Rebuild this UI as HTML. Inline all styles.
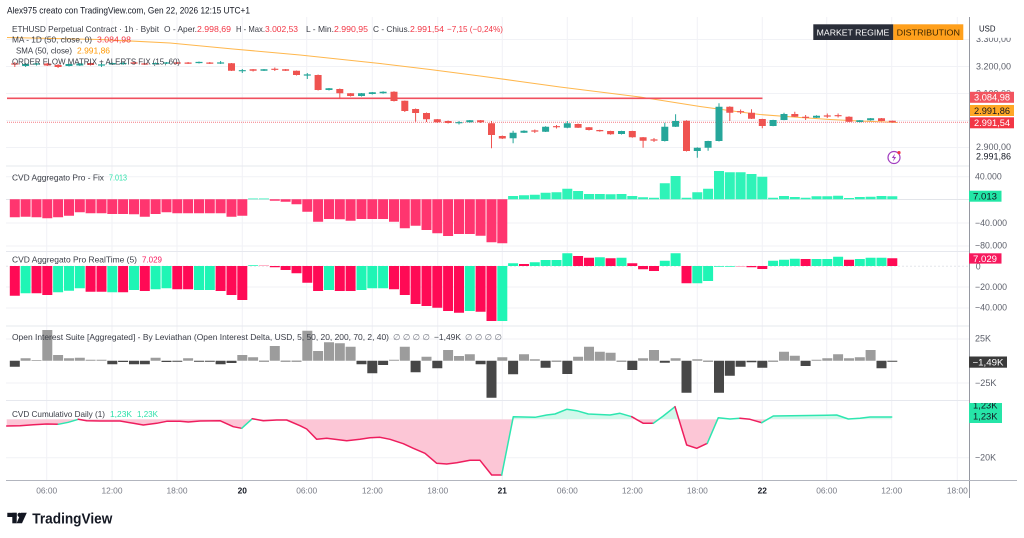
<!DOCTYPE html>
<html><head><meta charset="utf-8">
<style>
html,body{margin:0;padding:0;background:#fff;width:1024px;height:538px;overflow:hidden}
svg{display:block}
text{font-family:"Liberation Sans",Arial,"DejaVu Sans",sans-serif}
</style></head><body>
<svg width="1024" height="538" viewBox="0 0 1024 538" xmlns="http://www.w3.org/2000/svg">
<defs>
<clipPath id="ab"><rect x="0" y="380" width="970" height="39.3"/></clipPath>
<clipPath id="bl"><rect x="0" y="419.3" width="970" height="62"/></clipPath>
<clipPath id="cumbadge"><rect x="969" y="403" width="40" height="20"/></clipPath>
</defs>
<rect x="0" y="0" width="1024" height="538" fill="#fff"/>

<!-- grid -->
<g stroke="#f1f2f6" stroke-width="1">
<path d="M46.7 17V480M112 17V480M177 17V480M242.3 17V480M306.7 17V480M372.3 17V480M437.7 17V480M502.3 17V480M567.3 17V480M632.3 17V480M697.3 17V480M762.3 17V480M826.7 17V480M891.7 17V480M957.3 17V480"/>
<path d="M6 39.5H969M6 66.5H969M6 93.5H969M6 120.5H969M6 147.5H969M6 176.7H969M6 223H969M6 246H969M6 287H969M6 308H969M6 339H969M6 383H969M6 457.7H969"/>
</g>
<!-- pane separators -->
<path d="M6 166H969M6 251.5H969M6 326H969M6 400.5H969" stroke="#e6e8ee" stroke-width="1"/>
<!-- zero lines -->
<line x1="6" y1="199.5" x2="969" y2="199.5" stroke="#e3e5ea" stroke-width="1"/>
<line x1="6" y1="266.3" x2="969" y2="266.3" stroke="#e3e5ea" stroke-width="1" stroke-dasharray="2,2"/>

<!-- SMA orange -->
<polyline points="7,37.5 100,39.5 170,43 233,49 300,55 380,63.5 430,69.5 480,76 520,81.5 560,87 600,92 640,97 700,106.5 740,112 760,114.5 800,117.5 830,119.5 860,121 897,122.5" fill="none" stroke="#ffb74d" stroke-width="1.1"/>
<!-- MA 1D -->
<line x1="7" y1="98.3" x2="762.5" y2="98.3" stroke="#f0505f" stroke-width="1.6"/>
<!-- price line -->
<line x1="7" y1="122.3" x2="969" y2="122.3" stroke="#f47a84" stroke-width="1" stroke-dasharray="1,1"/>

<!-- candles green -->
<path stroke="#26a69a" stroke-width="1" fill="none" d="M25.6 63V67M36.5 63V65.5M69 63.5V66.5M79.8 63V66M101.5 63V67M112.3 62.5V65M123.1 62V65M155.6 62.5V64.5M166.5 62V64M199 61.5V63.5M220.6 61V64M242.3 69V73M264 69V71M307.3 73V79M329 88V90.5M361.5 93V96.5M372.3 92V94.5M383.1 91.3V93.7M459 121V124.5M469.8 120V122.7M513.1 130.7V143.3M524 130.3V133M545.6 126.3V132M567.3 121V128.3M621.5 130.7V134.5M664.8 122.7V141.5M675.6 114.3V127M697.3 147.3V157.7M708.1 140.7V150.7M719 103.3V141.5M773.1 119.7V126.3M784 112.7V120.3M816.5 115.3V118M859.8 120V122.5M870.6 118V120.7"/>
<path fill="#26a69a" d="M22.1 64h7v2h-7zM33 63.4h7v1.2h-7zM65.5 64h7v2h-7zM76.3 63.5h7v2h-7zM98 64.4h7v1.2h-7zM108.8 63h7v1.5h-7zM119.6 62.9h7v1.2h-7zM152.1 63h7v1.2h-7zM163 62.4h7v1.2h-7zM195.5 61.9h7v1.2h-7zM217.1 62.4h7v1.2h-7zM238.8 70.1h7v1.2h-7zM260.5 69.3h7v1.4h-7zM303.8 74.4h7v1.2h-7zM325.5 88.3h7v1.7h-7zM358 93.3h7v2.7h-7zM368.8 92.3h7v1.7h-7zM379.6 91.7h7v1.6h-7zM455.5 122.1h7v1.2h-7zM466.3 120.3h7v2h-7zM509.6 132.7h7v5.6h-7zM520.5 130.7h7v2h-7zM542.1 126.7h7v5h-7zM563.8 123.3h7v4.4h-7zM618 131h7v3h-7zM661.3 126.7h7v14.3h-7zM672.1 121h7v5.7h-7zM693.8 147.7h7v3.3h-7zM704.6 141h7v6.7h-7zM715.5 106.7h7v34.3h-7zM769.6 120h7v6h-7zM780.5 114h7v6h-7zM813 115.7h7v2h-7zM856.3 120.3h7v1.7h-7zM867.1 118.3h7v2h-7z"/>
<!-- candles red -->
<path stroke="#ef5350" stroke-width="1" fill="none" d="M14.8 62V67M47.3 63V66M58.1 64V68M90.6 62.5V65.5M134 62V64.5M144.8 63V65M177.3 62V64M188.1 62V64M209.8 62V64M231.5 63V71M253.1 69V71.5M274.8 67.5V71M285.6 69V71M296.5 70.5V75.5M318.1 74.5V90.5M339.8 88.5V98.3M350.6 93V96.5M394 91.3V101.5M404.8 100.5V112M415.6 108.5V121.7M426.5 112.5V122M437.3 119V123M448.1 120.5V123.5M480.6 120V123M491.5 121V148.3M502.3 135.5V139M534.8 129.5V133M556.5 125V128.5M578.1 123.5V128M589 127V130.5M599.8 129.7V131.7M610.6 130.7V134.7M632.3 130.7V137.7M643.1 137V147.7M654 138V142M686.5 120.3V151.5M729.8 106.3V121M740.6 109.5V114M751.5 109.3V119M762.3 118.7V128.3M794.8 111.7V117M805.6 115V120M827.3 113.5V118M838.1 113.5V117.5M849 116.3V122M881.5 118V121.3M892.3 120.5V122.7"/>
<path fill="#ef5350" d="M11.3 63.4h7v1.2h-7zM43.8 63.5h7v2h-7zM54.6 65h7v2h-7zM87.1 63h7v2h-7zM130.5 62.4h7v1.2h-7zM141.3 63.4h7v1.2h-7zM173.8 62.4h7v1.2h-7zM184.6 62.5h7v1.2h-7zM206.3 62.5h7v1.2h-7zM228 63.3h7v7.4h-7zM249.6 69.3h7v1.4h-7zM271.3 68.7h7v1.2h-7zM282.1 69.3h7v1.4h-7zM293 70.7h7v4.3h-7zM314.6 75h7v15h-7zM336.3 89h7v4.3h-7zM347.1 93.3h7v2.7h-7zM390.5 91.7h7v9.3h-7zM401.3 100.7h7v10.3h-7zM412.1 109h7v4h-7zM423 113h7v6.3h-7zM433.8 119.3h7v3h-7zM444.6 121h7v2h-7zM477.1 120.3h7v2h-7zM488 123.3h7v11.7h-7zM498.8 136h7v2.5h-7zM531.3 130.4h7v1.2h-7zM553 126.1h7v1.2h-7zM574.6 124h7v3.7h-7zM585.5 127.3h7v2.7h-7zM596.3 130h7v1.3h-7zM607.1 131h7v3.3h-7zM628.8 131h7v6.3h-7zM639.6 137.3h7v3.4h-7zM650.5 139.4h7v1.2h-7zM683 120.7h7v30.3h-7zM726.3 106.7h7v6h-7zM737.1 111.1h7v1.2h-7zM748 112.7h7v6h-7zM758.8 119h7v7h-7zM791.3 114h7v2.7h-7zM802.1 116.7h7v1.2h-7zM823.8 115.4h7v1.2h-7zM834.6 115.1h7v1.2h-7zM845.5 116.7h7v5h-7zM878 118.3h7v2.7h-7zM888.8 120.7h7v1.6h-7z"/>

<!-- CVD Fix -->
<path fill="#ff356f" d="M9.8 199.3V217.3h10V199.3zM20.6 199.3V216.7h10V199.3zM31.5 199.3V217.3h10V199.3zM42.3 199.3V218.3h10V199.3zM53.1 199.3V217.3h10V199.3zM64 199.3V215.7h10V199.3zM74.8 199.3V212.3h10V199.3zM85.6 199.3V213.3h10V199.3zM96.5 199.3V213.3h10V199.3zM107.3 199.3V214h10V199.3zM118.1 199.3V214h10V199.3zM129 199.3V214.3h10V199.3zM139.8 199.3V216.7h10V199.3zM150.6 199.3V214h10V199.3zM161.5 199.3V212.3h10V199.3zM172.3 199.3V213.3h10V199.3zM183.1 199.3V213.3h10V199.3zM194 199.3V213.3h10V199.3zM204.8 199.3V213.3h10V199.3zM215.6 199.3V213.3h10V199.3zM226.5 199.3V216.7h10V199.3zM237.3 199.3V215.7h10V199.3zM269.8 199.3V200.7h10V199.3zM280.6 199.3V201.7h10V199.3zM291.5 199.3V204.3h10V199.3zM302.3 199.3V211.7h10V199.3zM313.1 199.3V221.7h10V199.3zM324 199.3V219h10V199.3zM334.8 199.3V219.3h10V199.3zM345.6 199.3V220.7h10V199.3zM356.5 199.3V219h10V199.3zM367.3 199.3V219h10V199.3zM378.1 199.3V219h10V199.3zM389 199.3V221.7h10V199.3zM399.8 199.3V228.3h10V199.3zM410.6 199.3V225.7h10V199.3zM421.5 199.3V230h10V199.3zM432.3 199.3V233.3h10V199.3zM443.1 199.3V236h10V199.3zM454 199.3V234h10V199.3zM464.8 199.3V234h10V199.3zM475.6 199.3V235.7h10V199.3zM486.5 199.3V242.3h10V199.3zM497.3 199.3V243.3h10V199.3z"/>
<path fill="#2ff3b8" d="M248.1 199.3V198.5h10V199.3zM259 199.3V198.5h10V199.3zM508.1 199.3V196h10V199.3zM519 199.3V195.3h10V199.3zM529.8 199.3V194.7h10V199.3zM540.6 199.3V192.7h10V199.3zM551.5 199.3V192.3h10V199.3zM562.3 199.3V188.7h10V199.3zM573.1 199.3V191h10V199.3zM584 199.3V194h10V199.3zM594.8 199.3V194h10V199.3zM605.6 199.3V194.3h10V199.3zM616.5 199.3V194h10V199.3zM627.3 199.3V196h10V199.3zM638.1 199.3V197.3h10V199.3zM649 199.3V197.7h10V199.3zM659.8 199.3V183.3h10V199.3zM670.6 199.3V176h10V199.3zM681.5 199.3V197.7h10V199.3zM692.3 199.3V192.3h10V199.3zM703.1 199.3V188.7h10V199.3zM714 199.3V171h10V199.3zM724.8 199.3V172.3h10V199.3zM735.6 199.3V172.3h10V199.3zM746.5 199.3V174h10V199.3zM757.3 199.3V176.7h10V199.3zM768.1 199.3V197.7h10V199.3zM779 199.3V196h10V199.3zM789.8 199.3V197h10V199.3zM800.6 199.3V197.7h10V199.3zM811.5 199.3V196.3h10V199.3zM822.3 199.3V196.3h10V199.3zM833.1 199.3V195.7h10V199.3zM844 199.3V198h10V199.3zM854.8 199.3V197h10V199.3zM865.6 199.3V196.7h10V199.3zM876.5 199.3V196h10V199.3zM887.3 199.3V196.3h10V199.3z"/>

<!-- CVD RealTime -->
<path fill="#ff0a55" d="M9.8 266V295.7h10V266zM31.5 266V293.3h10V266zM42.3 266V295h10V266zM85.6 266V291.7h10V266zM96.5 266V291.7h10V266zM118.1 266V292.3h10V266zM139.8 266V291h10V266zM172.3 266V289.3h10V266zM183.1 266V289.3h10V266zM215.6 266V291h10V266zM226.5 266V295h10V266zM237.3 266V300h10V266zM269.8 266V267.3h10V266zM280.6 266V270h10V266zM291.5 266V273.3h10V266zM302.3 266V282.7h10V266zM313.1 266V291h10V266zM334.8 266V291h10V266zM345.6 266V291h10V266zM389 266V289.3h10V266zM399.8 266V295h10V266zM410.6 266V304h10V266zM421.5 266V306h10V266zM432.3 266V307.7h10V266zM443.1 266V311h10V266zM454 266V312.7h10V266zM475.6 266V311.7h10V266zM486.5 266V321h10V266zM519 266V264h10V266zM573.1 266V256h10V266zM584 266V257.7h10V266zM605.6 266V258.3h10V266zM627.3 266V263.3h10V266zM638.1 266V269.3h10V266zM649 266V271h10V266zM681.5 266V283.3h10V266zM746.5 266V267.3h10V266zM757.3 266V269h10V266zM800.6 266V259h10V266zM844 266V259.7h10V266zM887.3 266V258.3h10V266z"/>
<path fill="#1ff5b5" d="M20.6 266V293.3h10V266zM53.1 266V292.3h10V266zM64 266V290.7h10V266zM74.8 266V288.3h10V266zM107.3 266V292.3h10V266zM129 266V290h10V266zM150.6 266V289.3h10V266zM161.5 266V288.3h10V266zM194 266V290h10V266zM204.8 266V290h10V266zM248.1 266V265.2h10V266zM324 266V290h10V266zM356.5 266V290h10V266zM367.3 266V288.3h10V266zM378.1 266V288.3h10V266zM464.8 266V311h10V266zM497.3 266V321h10V266zM508.1 266V263.3h10V266zM529.8 266V262.3h10V266zM540.6 266V260h10V266zM551.5 266V260h10V266zM562.3 266V253.3h10V266zM594.8 266V257.3h10V266zM616.5 266V257.7h10V266zM659.8 266V260.7h10V266zM670.6 266V253.3h10V266zM692.3 266V283.3h10V266zM703.1 266V281h10V266zM714 266V266.8h10V266zM724.8 266V266.8h10V266zM768.1 266V260.7h10V266zM779 266V259.7h10V266zM789.8 266V258.7h10V266zM811.5 266V259h10V266zM822.3 266V259h10V266zM833.1 266V256.7h10V266zM854.8 266V259h10V266zM865.6 266V257.7h10V266zM876.5 266V257.7h10V266z"/>
<path fill="#ff9ab5" d="M259 266V265.2h10V266zM735.6 266V266.8h10V266z"/>

<!-- Open Interest -->
<path fill="#474747" d="M9.8 360.7V366.7h10V360.7zM107.3 360.7V364.3h10V360.7zM118.1 360.7V362h10V360.7zM129 360.7V364.3h10V360.7zM139.8 360.7V364.3h10V360.7zM161.5 360.7V362h10V360.7zM172.3 360.7V361.7h10V360.7zM194 360.7V361.7h10V360.7zM204.8 360.7V361.7h10V360.7zM215.6 360.7V364.3h10V360.7zM226.5 360.7V363h10V360.7zM259 360.7V361.5h10V360.7zM280.6 360.7V361.5h10V360.7zM291.5 360.7V361.5h10V360.7zM356.5 360.7V364.3h10V360.7zM367.3 360.7V373.3h10V360.7zM378.1 360.7V365h10V360.7zM410.6 360.7V372.3h10V360.7zM432.3 360.7V368.3h10V360.7zM475.6 360.7V364.3h10V360.7zM486.5 360.7V397.7h10V360.7zM508.1 360.7V374.3h10V360.7zM540.6 360.7V367.7h10V360.7zM551.5 360.7V361.5h10V360.7zM562.3 360.7V374h10V360.7zM616.5 360.7V361.5h10V360.7zM627.3 360.7V370h10V360.7zM659.8 360.7V362.7h10V360.7zM681.5 360.7V392.7h10V360.7zM703.1 360.7V361.5h10V360.7zM714 360.7V392.7h10V360.7zM724.8 360.7V375.7h10V360.7zM735.6 360.7V366.7h10V360.7zM746.5 360.7V362.3h10V360.7zM757.3 360.7V367.7h10V360.7zM768.1 360.7V361.5h10V360.7zM800.6 360.7V366h10V360.7zM876.5 360.7V368.3h10V360.7zM887.3 360.7V361.7h10V360.7z"/>
<path fill="#9c9c9c" d="M20.6 360.7V358.3h10V360.7zM31.5 360.7V360h10V360.7zM42.3 360.7V330h10V360.7zM53.1 360.7V355h10V360.7zM64 360.7V358.3h10V360.7zM74.8 360.7V357.7h10V360.7zM85.6 360.7V359.7h10V360.7zM96.5 360.7V359.7h10V360.7zM150.6 360.7V357.7h10V360.7zM183.1 360.7V358.3h10V360.7zM237.3 360.7V355h10V360.7zM248.1 360.7V357.3h10V360.7zM269.8 360.7V346h10V360.7zM302.3 360.7V330.7h10V360.7zM313.1 360.7V351h10V360.7zM324 360.7V342.3h10V360.7zM334.8 360.7V343.3h10V360.7zM345.6 360.7V346.7h10V360.7zM389 360.7V359.7h10V360.7zM399.8 360.7V346.7h10V360.7zM421.5 360.7V356.7h10V360.7zM443.1 360.7V350h10V360.7zM454 360.7V356h10V360.7zM464.8 360.7V354.3h10V360.7zM497.3 360.7V357.3h10V360.7zM519 360.7V354.3h10V360.7zM529.8 360.7V359.3h10V360.7zM573.1 360.7V356.7h10V360.7zM584 360.7V346.7h10V360.7zM594.8 360.7V351.7h10V360.7zM605.6 360.7V352.7h10V360.7zM638.1 360.7V358.3h10V360.7zM649 360.7V350h10V360.7zM670.6 360.7V358.3h10V360.7zM692.3 360.7V359.3h10V360.7zM779 360.7V351.7h10V360.7zM789.8 360.7V355.7h10V360.7zM811.5 360.7V359.7h10V360.7zM822.3 360.7V358.3h10V360.7zM833.1 360.7V354.3h10V360.7zM844 360.7V358.3h10V360.7zM854.8 360.7V357.3h10V360.7zM865.6 360.7V350h10V360.7z"/>

<!-- CVD cumulative fill -->
<polygon clip-path="url(#ab)" fill="#d2f8eb" points="6.7,426 20,425.7 33.3,424.7 46.7,424 58.3,424.3 68.3,422.3 78.3,419.3 86.7,420.7 100,421 120,421 133.3,423.3 143.3,425 156.7,423.3 166.7,421.3 180,421.3 188.3,422 200,421 220,420.7 233.3,426.7 241.7,428.3 252.3,418.7 263.3,420.7 276.7,420 286.7,420 300,425.7 306.7,429 316.7,439.3 326.7,438.3 346.7,440.7 360,439.3 370,437.7 380,437.3 390,439.3 403.3,443.7 413.3,448.3 425,453.3 436.7,463.3 446.7,464 456.7,462.7 470,460.3 480,460.3 491.7,475 501.7,475 513.3,416.7 535,417.3 546.7,415 555,414 566.7,409.3 576.7,410.7 588.3,414 610,415 620,413.3 631.7,416.7 643.3,423.3 653.3,423.3 663.3,416 675,406.7 686.7,445 696.7,448.3 707.3,443.3 718.3,417.7 730,419 740,418.3 750,419.3 761.7,422.7 773.3,416 826.7,415.3 836.7,415 848.3,419 860,418.3 870,417 891.7,417 891.7,419.3 6.7,419.3"/>
<polygon clip-path="url(#bl)" fill="#fcc6d6" points="6.7,426 20,425.7 33.3,424.7 46.7,424 58.3,424.3 68.3,422.3 78.3,419.3 86.7,420.7 100,421 120,421 133.3,423.3 143.3,425 156.7,423.3 166.7,421.3 180,421.3 188.3,422 200,421 220,420.7 233.3,426.7 241.7,428.3 252.3,418.7 263.3,420.7 276.7,420 286.7,420 300,425.7 306.7,429 316.7,439.3 326.7,438.3 346.7,440.7 360,439.3 370,437.7 380,437.3 390,439.3 403.3,443.7 413.3,448.3 425,453.3 436.7,463.3 446.7,464 456.7,462.7 470,460.3 480,460.3 491.7,475 501.7,475 513.3,416.7 535,417.3 546.7,415 555,414 566.7,409.3 576.7,410.7 588.3,414 610,415 620,413.3 631.7,416.7 643.3,423.3 653.3,423.3 663.3,416 675,406.7 686.7,445 696.7,448.3 707.3,443.3 718.3,417.7 730,419 740,418.3 750,419.3 761.7,422.7 773.3,416 826.7,415.3 836.7,415 848.3,419 860,418.3 870,417 891.7,417 891.7,419.3 6.7,419.3"/>
<!-- CVD cumulative line -->
<g fill="none" stroke-width="1.5" stroke-linejoin="round" stroke-linecap="round">
<polyline stroke="#ee1e5e" points="6.7,426 20,425.7 33.3,424.7 46.7,424 58.3,424.3"/>
<polyline stroke="#2ee6b0" points="58.3,424.3 68.3,422.3 78.3,419.3"/>
<polyline stroke="#ee1e5e" points="78.3,419.3 86.7,420.7 100,421 120,421 133.3,423.3 143.3,425 156.7,423.3 166.7,421.3 180,421.3 188.3,422 200,421 220,420.7 233.3,426.7 241.7,428.3"/>
<polyline stroke="#2ee6b0" points="241.7,428.3 252.3,418.7"/>
<polyline stroke="#ee1e5e" points="252.3,418.7 263.3,420.7 276.7,420 286.7,420 300,425.7 306.7,429 316.7,439.3 326.7,438.3 346.7,440.7 360,439.3 370,437.7 380,437.3 390,439.3 403.3,443.7 413.3,448.3 425,453.3 436.7,463.3 446.7,464 456.7,462.7 470,460.3 480,460.3 491.7,475 501.7,475"/>
<polyline stroke="#2ee6b0" points="501.7,475 513.3,416.7 535,417.3 546.7,415 555,414 566.7,409.3 576.7,410.7 588.3,414 610,415 620,413.3 631.7,416.7"/>
<polyline stroke="#ee1e5e" points="631.7,416.7 643.3,423.3 653.3,423.3"/>
<polyline stroke="#2ee6b0" points="653.3,423.3 663.3,416 675,406.7"/>
<polyline stroke="#ee1e5e" points="675,406.7 686.7,445 696.7,448.3 707.3,443.3"/>
<polyline stroke="#2ee6b0" points="707.3,443.3 718.3,417.7 730,419 740,418.3"/>
<polyline stroke="#ee1e5e" points="740,418.3 750,419.3 761.7,422.7"/>
<polyline stroke="#2ee6b0" points="761.7,422.7 773.3,416 826.7,415.3 836.7,415 848.3,419 860,418.3 870,417 891.7,417"/>
</g>

<!-- axes -->
<line x1="969.5" y1="17" x2="969.5" y2="498" stroke="#9598a1" stroke-width="1"/>
<line x1="6" y1="480.5" x2="1017" y2="480.5" stroke="#b2b5be" stroke-width="1"/>

<!-- header -->
<text x="7" y="13.5" font-size="9.5" fill="#131722" textLength="243" lengthAdjust="spacingAndGlyphs">Alex975 creato con TradingView.com, Gen 22, 2026 12:15 UTC+1</text>

<!-- price legend -->
<g font-size="8.4" fill="#3a3d46">
<text x="12" y="31.8" textLength="147" lengthAdjust="spacingAndGlyphs">ETHUSD Perpetual Contract · 1h · Bybit</text>
<text x="164" y="31.8" textLength="33" lengthAdjust="spacingAndGlyphs">O - Aper.</text>
<text x="197" y="31.8" textLength="34" lengthAdjust="spacingAndGlyphs" fill="#f23645">2.998,69</text>
<text x="236" y="31.8" textLength="29" lengthAdjust="spacingAndGlyphs">H - Max.</text>
<text x="265" y="31.8" textLength="33" lengthAdjust="spacingAndGlyphs" fill="#f23645">3.002,53</text>
<text x="306" y="31.8" textLength="28" lengthAdjust="spacingAndGlyphs">L - Min.</text>
<text x="334" y="31.8" textLength="34" lengthAdjust="spacingAndGlyphs" fill="#f23645">2.990,95</text>
<text x="373" y="31.8" textLength="37" lengthAdjust="spacingAndGlyphs">C - Chius.</text>
<text x="410" y="31.8" textLength="34" lengthAdjust="spacingAndGlyphs" fill="#f23645">2.991,54</text>
<text x="447" y="31.8" textLength="56" lengthAdjust="spacingAndGlyphs" fill="#f23645">−7,15 (−0,24%)</text>
<text x="12" y="42.5" textLength="80" lengthAdjust="spacingAndGlyphs">MA - 1D (50, close, 0)</text>
<text x="97" y="42.5" textLength="34" lengthAdjust="spacingAndGlyphs" fill="#f23645">3.084,98</text>
<text x="16" y="53.3" textLength="56" lengthAdjust="spacingAndGlyphs">SMA (50, close)</text>
<text x="77" y="53.3" textLength="33" lengthAdjust="spacingAndGlyphs" fill="#ff9800">2.991,86</text>
<text x="12" y="64.3" textLength="168" lengthAdjust="spacingAndGlyphs">ORDER FLOW MATRIX + ALERTS FIX (15, 60)</text>
</g>

<!-- pane legends -->
<g font-size="8.4" fill="#3a3d46">
<text x="12" y="180.5" textLength="92" lengthAdjust="spacingAndGlyphs">CVD Aggregato Pro - Fix</text>
<text x="109" y="180.5" textLength="18" lengthAdjust="spacingAndGlyphs" fill="#2ee0aa">7.013</text>
<text x="12" y="262.5" textLength="125" lengthAdjust="spacingAndGlyphs">CVD Aggregato Pro RealTime  (5)</text>
<text x="142" y="262.5" textLength="20" lengthAdjust="spacingAndGlyphs" fill="#f7185d">7.029</text>
<text x="12" y="340" textLength="377" lengthAdjust="spacingAndGlyphs">Open Interest Suite [Aggregated] - By Leviathan (Open Interest Delta, USD, 5, 50, 20, 200, 70, 2, 40)</text>
<text x="393" y="340" textLength="37" lengthAdjust="spacingAndGlyphs" fill="#787b86">∅ ∅ ∅ ∅</text>
<text x="434" y="340" textLength="27" lengthAdjust="spacingAndGlyphs">−1,49K</text>
<text x="465" y="340" textLength="37" lengthAdjust="spacingAndGlyphs" fill="#787b86">∅ ∅ ∅ ∅</text>
<text x="12" y="417" textLength="93" lengthAdjust="spacingAndGlyphs">CVD Cumulativo Daily (1)</text>
<text x="110" y="417" textLength="22" lengthAdjust="spacingAndGlyphs" fill="#2ee0aa">1,23K</text>
<text x="137" y="417" textLength="21" lengthAdjust="spacingAndGlyphs" fill="#2ee0aa">1,23K</text>
</g>

<!-- market regime -->
<rect x="813.3" y="24.3" width="80" height="15.7" fill="#2a2e39"/>
<rect x="893.3" y="24.3" width="70" height="15.7" fill="#ffa01c"/>
<text x="816.7" y="35.3" font-size="8.6" fill="#ffffff" textLength="72.6" lengthAdjust="spacingAndGlyphs">MARKET REGIME</text>
<text x="896.7" y="35.3" font-size="8.6" fill="#3b2600" textLength="63.3" lengthAdjust="spacingAndGlyphs">DISTRIBUTION</text>

<!-- lightning icon -->
<circle cx="894" cy="157.5" r="6" fill="#fff" stroke="#a23ec0" stroke-width="1.2"/>
<path d="M895,153.5 L891.8,158 L894,158 L893,161.5 L896.2,157 L894,157 Z" fill="#a23ec0"/>
<circle cx="899" cy="152.6" r="1.6" fill="#f23645"/>

<!-- price axis labels -->
<text x="976" y="42" font-size="8.8" fill="#5d606b" textLength="35" lengthAdjust="spacingAndGlyphs">3.300,00</text>
<rect x="970" y="17" width="54" height="20.8" fill="#fff"/>
<text x="979" y="31.7" font-size="8.6" fill="#131722" textLength="16.5" lengthAdjust="spacingAndGlyphs">USD</text>
<g font-size="8.8" fill="#5d606b">
<text x="976" y="69.3" textLength="35" lengthAdjust="spacingAndGlyphs">3.200,00</text>
<text x="976" y="96.5" textLength="35" lengthAdjust="spacingAndGlyphs">3.100,00</text>
<text x="976" y="150" textLength="35" lengthAdjust="spacingAndGlyphs">2.900,00</text>
</g>
<text x="976" y="159.5" font-size="8.8" fill="#131722" textLength="35" lengthAdjust="spacingAndGlyphs">2.991,86</text>
<rect x="970" y="91.8" width="44" height="11" fill="#f2545f"/>
<text x="974" y="100.5" font-size="8.8" fill="#fff" textLength="36" lengthAdjust="spacingAndGlyphs">3.084,98</text>
<rect x="970" y="105" width="44" height="11" fill="#ffa726"/>
<text x="974" y="113.8" font-size="8.8" fill="#131722" textLength="36" lengthAdjust="spacingAndGlyphs">2.991,86</text>
<rect x="970" y="117.3" width="44" height="11" fill="#f23645"/>
<text x="974" y="126.1" font-size="8.8" fill="#fff" textLength="36" lengthAdjust="spacingAndGlyphs">2.991,54</text>

<!-- CVD Fix axis -->
<g font-size="8.8" fill="#5d606b">
<text x="975" y="179.3" textLength="26.7" lengthAdjust="spacingAndGlyphs">40.000</text>
<text x="975" y="226" textLength="32" lengthAdjust="spacingAndGlyphs">−40.000</text>
<text x="975" y="248.7" textLength="32" lengthAdjust="spacingAndGlyphs">−80.000</text>
</g>
<rect x="969" y="190.7" width="32.5" height="11" fill="#22e6a5"/>
<text x="973" y="199.5" font-size="8.8" fill="#131722" textLength="24" lengthAdjust="spacingAndGlyphs">7.013</text>

<!-- CVD RT axis -->
<g font-size="8.8" fill="#5d606b">
<text x="975.7" y="269.5">0</text>
<text x="975" y="290" textLength="32" lengthAdjust="spacingAndGlyphs">−20.000</text>
<text x="975" y="310.7" textLength="32" lengthAdjust="spacingAndGlyphs">−40.000</text>
</g>
<rect x="969" y="253.3" width="32.5" height="10.3" fill="#f7185d"/>
<text x="973" y="261.8" font-size="8.8" fill="#fff" textLength="24" lengthAdjust="spacingAndGlyphs">7.029</text>

<!-- OI axis -->
<g font-size="8.8" fill="#5d606b">
<text x="975" y="341.7" textLength="16" lengthAdjust="spacingAndGlyphs">25K</text>
<text x="975" y="386" textLength="21.5" lengthAdjust="spacingAndGlyphs">−25K</text>
</g>
<rect x="969" y="356.5" width="38" height="11.2" fill="#3a3a3a"/>
<text x="972.5" y="365.3" font-size="8.8" fill="#fff" textLength="31" lengthAdjust="spacingAndGlyphs">−1,49K</text>

<!-- Cum axis -->
<rect x="969" y="403" width="33" height="20" fill="#26e5a8"/>
<g clip-path="url(#cumbadge)">
<text x="973" y="408.3" font-size="8.8" fill="#131722" textLength="24.5" lengthAdjust="spacingAndGlyphs">1,23K</text>
</g>
<text x="973" y="419.5" font-size="8.8" fill="#131722" textLength="24.5" lengthAdjust="spacingAndGlyphs">1,23K</text>
<text x="975" y="460.7" font-size="8.8" fill="#5d606b" textLength="21" lengthAdjust="spacingAndGlyphs">−20K</text>

<!-- time axis -->
<g font-size="8.4" fill="#787b86" text-anchor="middle">
<text x="46.7" y="493.3">06:00</text>
<text x="112" y="493.3">12:00</text>
<text x="177" y="493.3">18:00</text>
<text x="242.3" y="493.3" fill="#131722" font-weight="bold">20</text>
<text x="306.7" y="493.3">06:00</text>
<text x="372.3" y="493.3">12:00</text>
<text x="437.7" y="493.3">18:00</text>
<text x="502.3" y="493.3" fill="#131722" font-weight="bold">21</text>
<text x="567.3" y="493.3">06:00</text>
<text x="632.3" y="493.3">12:00</text>
<text x="697.3" y="493.3">18:00</text>
<text x="762.3" y="493.3" fill="#131722" font-weight="bold">22</text>
<text x="826.7" y="493.3">06:00</text>
<text x="891.7" y="493.3">12:00</text>
<text x="957.3" y="493.3">18:00</text>
</g>

<!-- TradingView logo -->
<g fill="#131722">
<rect x="7.3" y="512.8" width="9.4" height="4.2"/>
<rect x="12.3" y="512.8" width="4.4" height="10.5"/>
<circle cx="19.6" cy="514.9" r="2.1"/>
<polygon points="21,512.8 26.8,512.8 22,523.3 16.6,523.3"/>
</g>
<text x="32.3" y="523.3" font-size="14.5" font-weight="bold" fill="#131722" textLength="80" lengthAdjust="spacingAndGlyphs">TradingView</text>
</svg>
</body></html>
